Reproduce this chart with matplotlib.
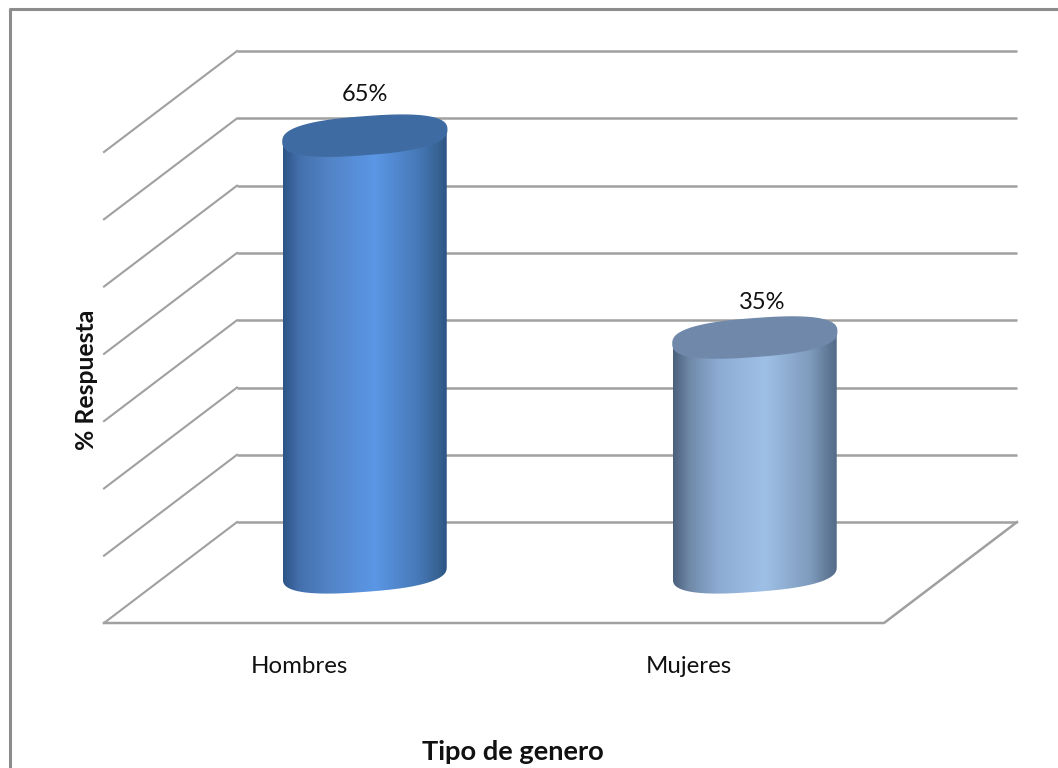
import matplotlib
matplotlib.use("Agg")
import matplotlib.pyplot as plt
import numpy as np
from matplotlib.lines import Line2D
from matplotlib.patches import PathPatch
from matplotlib.path import Path
from matplotlib.colors import LinearSegmentedColormap

categories = ["Hombres", "Mujeres"]
respuesta = [65, 35]
value_ticks = [0, 10, 20, 30, 40, 50, 60, 70]
x_title = "Tipo de genero"
y_title = "% Respuesta"

# 3d look: how far the back wall is shifted, in data units
depth_x = 133 / 390
depth_y = 15.0
bar_depth = 0.495
half_width = 0.21
cap_height = 2.8
cap_shear = 0.9
round_power = 0.78
label_pad = [6.1, 5.2]

stops = [0, 0.1, 0.28, 0.56, 0.84, 0.96, 1]
side_colors = [
    ["#2c5487", "#4470ad", "#5283c6", "#5b97e6", "#4577b5", "#35608f", "#2c5487"],
    ["#4a607c", "#7089a8", "#8dacd3", "#9fc0e6", "#7f9bbd", "#5c7592", "#566d8a"],
]
top_colors = ["#3f6ba3", "#7089ab"]
grid_color = "#a0a0a0"
frame_color = "#8c8c8c"
text_color = "#111111"

plt.rcParams["font.family"] = ["Lato", "DejaVu Sans"]

fig = plt.figure(figsize=(10.58, 7.68), dpi=100)
ax = fig.add_axes([104 / 1058, 145 / 768, 780 / 1058, 471 / 768])
ax.set_xlim(0, 2)
ax.set_ylim(0, 70)
ax.axis("off")

# only the top and left sides of the frame are in the picture
fig.add_artist(Line2D([9.5 / 1058, 9.5 / 1058, 1], [0, 1 - 9 / 768, 1 - 9 / 768],
                      color=frame_color, lw=2.2, transform=fig.transFigure))

# back wall and left wall
for v in value_ticks:
    ax.plot([depth_x, 2 + depth_x], [v + depth_y, v + depth_y], color=grid_color, lw=1.8,
            clip_on=False, zorder=1, solid_capstyle="butt")
    ax.plot([0, depth_x], [v, v + depth_y], color=grid_color, lw=1.5, clip_on=False, zorder=1)

# floor
ax.plot([0, 2, 2 + depth_x], [0, 0, depth_y], color=grid_color, lw=1.8, clip_on=False, zorder=1)


def rounded(a):
    return np.sign(a) * np.abs(a) ** round_power


t = np.linspace(0, 2 * np.pi, 300)
for i, value in enumerate(respuesta):
    cx = i + 0.5 + bar_depth * depth_x
    base = bar_depth * depth_y
    # side of the cylinder: bottom edge going right, then the top edge going back
    t_low = np.linspace(np.pi, 0, 120)
    xs = cx + half_width * rounded(np.cos(t_low))
    low = base - cap_height * rounded(np.sin(t_low)) + cap_shear * rounded(np.cos(t_low))
    high = low[::-1] + value
    verts = list(zip(xs, low)) + list(zip(xs[::-1], high))
    outline = PathPatch(Path(verts + [verts[0]]), transform=ax.transData, fc="none", ec="none")
    ax.add_patch(outline)
    cmap = LinearSegmentedColormap.from_list("side", list(zip(stops, side_colors[i])))
    img = ax.imshow(np.linspace(0, 1, 256).reshape(1, -1), cmap=cmap, aspect="auto", zorder=2,
                    extent=[cx - half_width, cx + half_width, base - 5, base + value + 5])
    img.set_clip_path(outline)
    img.set_clip_box(fig.bbox)
    # top of the cylinder
    tx = cx + half_width * rounded(np.cos(t))
    ty = base + value - cap_height * rounded(np.sin(t)) + cap_shear * rounded(np.cos(t))
    ax.fill(tx, ty, color=top_colors[i], zorder=3, clip_on=False)
    ax.text(cx + 0.02 * i, base + value + label_pad[i], f"{value}%", ha="center", va="center",
            fontsize=17, color=text_color, zorder=4)
    ax.text(i + 0.5, -6.4, categories[i], ha="center", va="center", fontsize=17.3, color=text_color)

ax.set_xlim(0, 2)
ax.set_ylim(0, 70)

fig.text(513 / 1058, 1 - 752 / 768, x_title, ha="center", va="center", fontsize=19.6,
         fontweight="bold", color=text_color)
fig.text(87 / 1058, 1 - 380 / 768, y_title, ha="center", va="center", rotation=90, fontsize=17.8,
         fontweight="bold", color=text_color)

fig.savefig("out.png", dpi=100)
